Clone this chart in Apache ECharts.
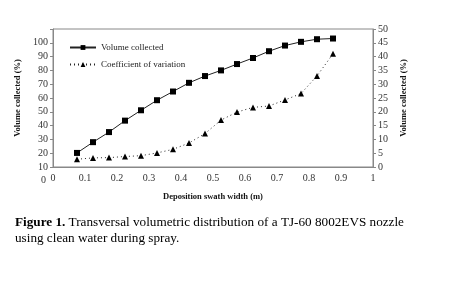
<!DOCTYPE html>
<html>
<head>
<meta charset="utf-8">
<script src="https://cdn.jsdelivr.net/npm/echarts@6/dist/echarts.min.js"></script>
<style>
  html, body { margin: 0; padding: 0; background: #fff; }
  #chart { width: 452px; height: 293px; }
</style>
</head>
<body>
<div id="chart"></div>
<script>
// swath width positions (m)
const widths = [0.075, 0.125, 0.175, 0.225, 0.275, 0.325, 0.375, 0.425, 0.475, 0.525, 0.575, 0.625, 0.675, 0.725, 0.775, 0.825, 0.875];
// volume collected (%) - left axis
const volume = [20.2, 28, 35.3, 43.6, 51.1, 58.4, 64.7, 71, 75.9, 80, 84.6, 89, 93.9, 98, 100.7, 102.6, 103.1];
// coefficient of variation (%) - right axis
const cv = [2.8, 3.3, 3.4, 3.8, 4.1, 5.1, 6.4, 8.7, 12.1, 17, 19.9, 21.6, 22.1, 24.3, 26.6, 33, 41];

const font = 'Liberation Serif';
const pair = (xs, ys) => xs.map((x, i) => [x, ys[i]]);

const chart = echarts.init(document.getElementById('chart'));
chart.setOption({
    animation: false,
    textStyle: { fontFamily: font },
    grid: { left: 53, top: 29, right: 79, bottom: 126, show: true, borderColor: '#888', borderWidth: 1 },
    legend: {
        orient: 'vertical',
        left: 64,
        top: 38,
        itemWidth: 26,
        itemHeight: 6,
        itemGap: 8,
        textStyle: { fontFamily: font, fontSize: 9, color: '#222' },
        data: ['Volume collected', 'Coefficient of variation']
    },
    xAxis: {
        type: 'value',
        min: 0, max: 1, interval: 0.1,
        name: 'Deposition swath width (m)',
        nameLocation: 'middle',
        nameGap: 25,
        nameTextStyle: { fontFamily: font, fontSize: 8.5, fontWeight: 'bold', color: '#111' },
        axisLine: { lineStyle: { color: '#888' } },
        axisTick: { show: false },
        splitLine: { show: false },
        axisLabel: { fontFamily: font, fontSize: 10, color: '#333', margin: 6 }
    },
    yAxis: [
        {
            type: 'value',
            min: 10, max: 110, interval: 10,
            name: 'Volume collected (%)',
            nameLocation: 'middle',
            nameGap: 31,
            nameTextStyle: { fontFamily: font, fontSize: 8.5, fontWeight: 'bold', color: '#111' },
            axisLine: { show: true, lineStyle: { color: '#888' } },
            axisTick: { show: true, length: 3, lineStyle: { color: '#888' } },
            splitLine: { show: false },
            axisLabel: {
                fontFamily: font, fontSize: 10, color: '#333', margin: 5,
                formatter: v => (v > 100 ? '' : v)
            }
        },
        {
            type: 'value',
            min: 0, max: 50, interval: 5,
            name: 'Volume collected (%)',
            nameLocation: 'middle',
            nameGap: 22,
            nameTextStyle: { fontFamily: font, fontSize: 8.5, fontWeight: 'bold', color: '#111' },
            axisLine: { show: true, lineStyle: { color: '#888' } },
            axisTick: { show: true, length: 3, lineStyle: { color: '#888' } },
            splitLine: { show: false },
            axisLabel: { fontFamily: font, fontSize: 10, color: '#333', margin: 5 }
        }
    ],
    series: [
        {
            name: 'Volume collected',
            type: 'line',
            yAxisIndex: 0,
            data: pair(widths, volume),
            symbol: 'rect',
            symbolSize: 6,
            itemStyle: { color: '#000' },
            lineStyle: { color: '#222', width: 1 }
        },
        {
            name: 'Coefficient of variation',
            type: 'line',
            yAxisIndex: 1,
            data: pair(widths, cv),
            symbol: 'triangle',
            symbolSize: 6,
            itemStyle: { color: '#000' },
            lineStyle: { color: '#222', width: 1, type: [1, 3] }
        }
    ],
    graphic: [
        { type: 'text', left: 41, top: 175, style: { text: '0', font: '10px "Liberation Serif"', fill: '#333' } },
        {
            type: 'text', left: 15, top: 215,
            style: {
                text: '{b|Figure 1.} Transversal volumetric distribution of a TJ-60 8002EVS nozzle\nusing clean water during spray.',
                font: '13.2px "Liberation Serif"',
                fill: '#000',
                lineHeight: 16,
                rich: {
                    b: { fontFamily: font, fontSize: 13.2, fontWeight: 'bold', fill: '#000', lineHeight: 16 }
                }
            }
        }
    ]
});
</script>
</body>
</html>
